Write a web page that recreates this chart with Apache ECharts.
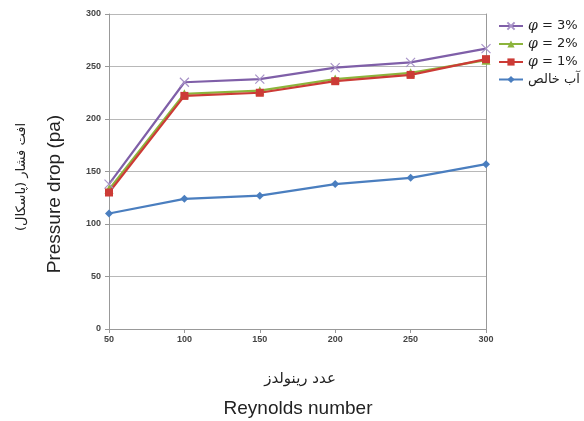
<!DOCTYPE html>
<html><head><meta charset="utf-8">
<script src="https://cdn.jsdelivr.net/npm/echarts@6/dist/echarts.min.js"></script>
<style>html,body{margin:0;padding:0;background:#fff}#c{width:584px;height:421px}</style>
</head><body><div id="c"></div>
<script>
const reynolds = [50, 100, 150, 200, 250, 300];
const phi3 = [138, 235, 238, 249, 254, 267];
const phi2 = [133, 224, 227, 238, 244, 256];
const phi1 = [130, 222, 225, 236, 242, 257];
const pureWater = [110, 124, 127, 138, 144, 157];
const seriesNames = ['φ = 3%', 'φ = 2%', 'φ = 1%', 'آب خالص'];
const xTitleFa = 'عدد رینولدز';
const xTitleEn = 'Reynolds number';
const yTitleFa = 'افت فشار (پاسکال)';
const yTitleEn = 'Pressure drop (pa)';

const pair = (arr) => reynolds.map((x, i) => [x, arr[i]]);
const chart = echarts.init(document.getElementById('c'));
const mk = (name, data, color, symbol, size) => ({
  name, type: 'line', data: pair(data), symbol, symbolSize: size,
  lineStyle: { color, width: 2.2 }, itemStyle: { color },
  z: 3
});
chart.setOption({
  animation: false,
  grid: { left: 109, right: 98, top: 14, bottom: 92 },
  xAxis: {
    type: 'value', min: 50, max: 300, interval: 50,
    axisLine: { show: true, onZero: false, lineStyle: { color: '#999' } },
    axisTick: { show: true, length: 4, lineStyle: { color: '#999' } },
    axisLabel: { color: '#444', fontSize: 9, fontWeight: 'bold', fontFamily: 'Liberation Sans', margin: 6 },
    splitLine: { show: false }
  },
  yAxis: [{
    type: 'value', min: 0, max: 300, interval: 50,
    axisLine: { show: true, lineStyle: { color: '#999' } },
    axisTick: { show: true, length: 4, inside: false, lineStyle: { color: '#999' } },
    axisLabel: { color: '#444', fontSize: 9, fontWeight: 'bold', fontFamily: 'Liberation Sans', margin: 8 },
    splitLine: { show: true, lineStyle: { color: '#b8b8b8', width: 1.2 } }
  }, {
    type: 'value', min: 0, max: 300, interval: 50, position: 'right',
    axisLine: { show: true, lineStyle: { color: '#999' } },
    axisTick: { show: false }, axisLabel: { show: false }, splitLine: { show: false }
  }],
  legend: {
    orient: 'vertical', left: 493, top: 14, itemGap: 4, itemWidth: 24, itemHeight: 9,
    data: seriesNames,
    textStyle: {
      fontSize: 13, color: '#222', fontFamily: 'DejaVu Sans',
      rich: { i: { fontStyle: 'italic', fontSize: 14, fontFamily: 'DejaVu Serif' }, t: { fontSize: 13, fontFamily: 'DejaVu Sans' } }
    },
    formatter: (n) => n.startsWith('φ') ? '{i|φ}{t|' + n.slice(1) + '}' : n
  },
  series: [
    mk(seriesNames[0], phi3, '#7f5fa8', 'path://M0,0L10,10M10,0L0,10', 9),
    mk(seriesNames[1], phi2, '#8cb43c', 'triangle', 9),
    mk(seriesNames[2], phi1, '#cc3b36', 'rect', 8),
    mk(seriesNames[3], pureWater, '#4a7ebf', 'diamond', 8)
  ].map((s, i) => i === 0 ? Object.assign(s, { itemStyle: { color: '#7f5fa8', borderColor: '#a893c8', borderWidth: 1.2 } }) : s),
  graphic: [
    { type: 'text', x: 22, y: 177, rotation: Math.PI / 2, style: { text: yTitleFa, font: '13px "DejaVu Sans"', fill: '#222', align: 'center', verticalAlign: 'middle' } },
    { type: 'text', x: 55, y: 194, rotation: Math.PI / 2, style: { text: yTitleEn, font: '19px "Liberation Sans"', fill: '#222', align: 'center', verticalAlign: 'middle' } },
    { type: 'text', x: 300, y: 379, style: { text: xTitleFa, font: '15px "DejaVu Sans"', fill: '#222', align: 'center', verticalAlign: 'middle' } },
    { type: 'text', x: 298, y: 409, style: { text: xTitleEn, font: '19px "Liberation Sans"', fill: '#222', align: 'center', verticalAlign: 'middle' } }
  ]
});
</script></body></html>
